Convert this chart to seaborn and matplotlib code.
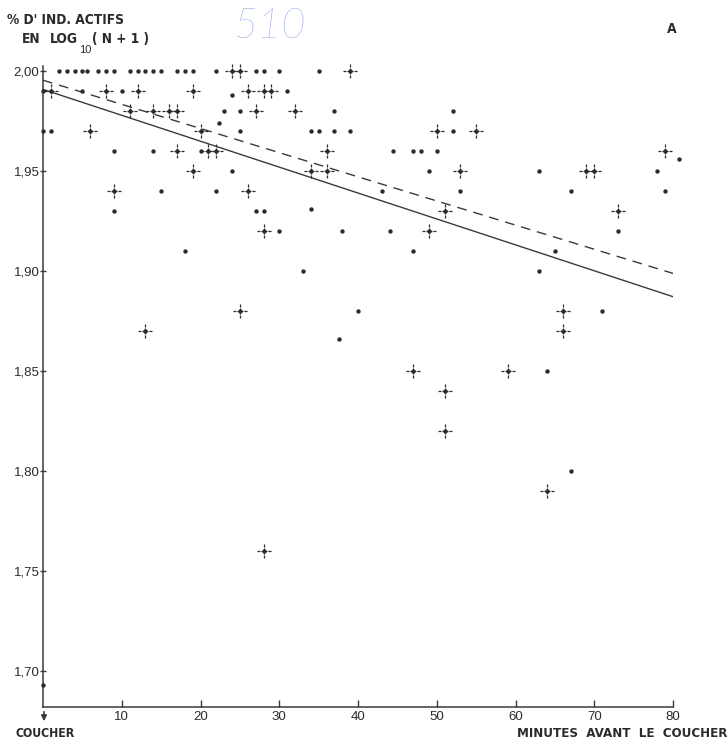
import numpy as np
import pandas as pd
import seaborn as sns
import matplotlib
matplotlib.use("Agg")
import matplotlib.pyplot as plt
from matplotlib.path import Path
from matplotlib.markers import MarkerStyle
from matplotlib import font_manager

# ---------------- data ----------------
# plain dots
dot_x = [2, 3, 4, 4.9, 5.6, 7, 8, 9, 11, 12, 13, 14, 15, 17, 18, 19, 22, 27, 28, 30, 35,
         0, 5, 10, 31, 24,
         23, 25, 37, 52,
         22.4,
         0, 1, 25, 34, 35, 37, 39, 52,
         9, 14, 20, 44.4, 47, 48, 50,
         80.8,
         24, 49, 63, 78,
         15, 22, 43, 53, 67, 79,
         9, 27, 28, 34,
         30, 38, 44, 73,
         18, 47, 65,
         33, 63,
         40, 71,
         37.6,
         64,
         67,
         0]
dot_y = [2.00] * 21 + \
        [1.99, 1.99, 1.99, 1.99, 1.988] + \
        [1.98] * 4 + \
        [1.974] + \
        [1.97] * 8 + \
        [1.96] * 7 + \
        [1.956] + \
        [1.95] * 4 + \
        [1.94] * 6 + \
        [1.93, 1.93, 1.93, 1.931] + \
        [1.92] * 4 + \
        [1.91] * 3 + \
        [1.90] * 2 + \
        [1.88] * 2 + \
        [1.866] + \
        [1.85] + \
        [1.80] + \
        [1.693]

# dots with a dashed cross
cross_x = [24, 25, 39,
           1, 8, 12, 19, 26, 28, 29,
           11, 14, 16, 17, 27, 32,
           6, 20, 50, 55,
           17, 21, 22, 36, 79,
           19, 34, 36, 53, 69, 70,
           9, 26,
           51, 73,
           28, 49,
           25, 66,
           13, 66,
           47, 59,
           51, 51, 64, 28]
cross_y = [2.00] * 3 + [1.99] * 7 + [1.98] * 6 + [1.97] * 4 + [1.96] * 5 + \
          [1.95] * 6 + [1.94] * 2 + [1.93] * 2 + [1.92] * 2 + [1.88] * 2 + \
          [1.87] * 2 + [1.85] * 2 + [1.84, 1.82, 1.79, 1.76]

# regression lines: intercept, slope, line style
line_names = ["solid", "dashed"]
line_intercepts = [1.9907, 1.9953]
line_slopes = [-0.001296, -0.001208]
line_x_range = [0, 80]

x_ticks = [10, 20, 30, 40, 50, 60, 70, 80]
y_ticks = [1.70, 1.75, 1.80, 1.85, 1.90, 1.95, 2.00]
y_tick_labels = ["1,70", "1,75", "1,80", "1,85", "1,90", "1,95", "2,00"]

# ---------------- style ----------------
sns.set_theme(style="white")
avail = {f.name for f in font_manager.fontManager.ttflist}
narrow = "Liberation Sans Narrow" if "Liberation Sans Narrow" in avail else "DejaVu Sans"
plt.rcParams["font.family"] = ["Liberation Sans", "DejaVu Sans"]

ink = "#2b2b2b"

fig = plt.figure(figsize=(7.28, 7.45), dpi=100)
ax = fig.add_axes([43 / 728, 1 - 707 / 745, 630 / 728, (707 - 66) / 745])

# lines
line_rows = []
for name, b0, b1 in zip(line_names, line_intercepts, line_slopes):
    for xv in line_x_range:
        line_rows.append({"x": xv, "y": b0 + b1 * xv, "kind": name})
lines_df = pd.DataFrame(line_rows)
sns.lineplot(data=lines_df, x="x", y="y", style="kind",
             dashes={"solid": "", "dashed": (7, 5)},
             color="#3a3a3a", linewidth=1.0, legend=False, ax=ax)

# dashed-cross marker
segs = []
codes = []
for dx, dy in [(1, 0), (-1, 0), (0, 1), (0, -1)]:
    for a, b in [(0.18, 0.45), (0.62, 1.0)]:
        segs += [(dx * a, dy * a), (dx * b, dy * b)]
        codes += [Path.MOVETO, Path.LINETO]
cross_marker = MarkerStyle(Path(segs, codes))

dots_df = pd.DataFrame({"x": dot_x, "y": dot_y})
cross_df = pd.DataFrame({"x": cross_x, "y": cross_y})

sns.scatterplot(data=cross_df, x="x", y="y", marker=cross_marker, s=105,
                color=ink, edgecolor=ink, linewidth=0.9, ax=ax, clip_on=False,
                zorder=3)
sns.scatterplot(data=cross_df, x="x", y="y", marker="o", s=10,
                color=ink, edgecolor=ink, linewidth=0, ax=ax, clip_on=False,
                zorder=4)
sns.scatterplot(data=dots_df, x="x", y="y", marker="o", s=10,
                color=ink, edgecolor=ink, linewidth=0, ax=ax, clip_on=False,
                zorder=4)

ax.set_xlim(0, 80)
ax.set_ylim(1.6818, 2.0024)
ax.set_xticks(x_ticks)
ax.set_xticklabels([str(v) for v in x_ticks])
ax.set_yticks(y_ticks)
ax.set_yticklabels(y_tick_labels)
ax.set_xlabel("")
ax.set_ylabel("")
for side in ["top", "right"]:
    ax.spines[side].set_visible(False)
for side in ["left", "bottom"]:
    ax.spines[side].set_color("#3a3a3a")
    ax.spines[side].set_linewidth(1.1)
ax.tick_params(axis="x", direction="in", length=5, width=1, colors="#3a3a3a",
               labelsize=9.5, pad=3, labelcolor=ink, bottom=True)
ax.tick_params(axis="y", direction="inout", length=5, width=1, colors="#3a3a3a",
               labelsize=9.5, pad=0, labelcolor=ink, left=True)
ax.set_facecolor("white")

# texts
bold = dict(family=[narrow, "DejaVu Sans"], fontweight="bold", color=ink,
            fontstretch="condensed")
fig.text(7 / 728, 1 - 24 / 745, "% D' IND. ACTIFS", fontsize=9.8, **bold)
fig.text(22 / 728, 1 - 43 / 745, "EN", fontsize=9.8, **bold)
fig.text(50 / 728, 1 - 43 / 745, "LOG", fontsize=9.8, **bold)
fig.text(79 / 728, 1 - 53 / 745, "10", fontsize=8, color=ink,
         family=["Liberation Sans", "DejaVu Sans"])
fig.text(92 / 728, 1 - 43 / 745, "( N + 1 )", fontsize=9.8, **bold)
fig.text(667 / 728, 1 - 33 / 745, "A", fontsize=10, **bold)
fig.text(233 / 728, 1 - 38 / 745, "510", fontsize=30, color="#7b97e0",
         family=["Lato", "DejaVu Sans"], fontweight="light", style="italic")
fig.text(16 / 728, 1 - 737 / 745, "COUCHER", fontsize=8.8, **bold)
fig.text(727 / 728, 1 - 737 / 745, "MINUTES  AVANT  LE  COUCHER", fontsize=9.5,
         ha="right", **bold)
fig.patches.append(matplotlib.patches.FancyArrowPatch(
    (44 / 728, 1 - 709 / 745), (44 / 728, 1 - 724 / 745),
    transform=fig.transFigure, arrowstyle="-|>", mutation_scale=8,
    color="#3a3a3a", linewidth=1.2))

fig.savefig("out.png", dpi=100, facecolor="white")
